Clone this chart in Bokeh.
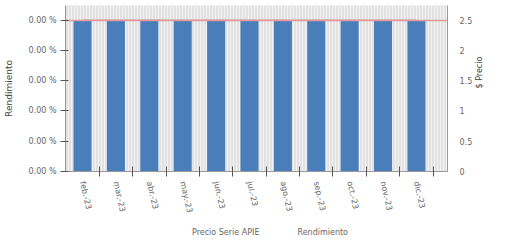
from bokeh.plotting import figure
from bokeh.layouts import column
from bokeh.models import (Range1d, LinearAxis, FixedTicker, NumeralTickFormatter,
                          BoxAnnotation, Legend, LegendItem, ColumnDataSource)
from bokeh.embed import file_html
from bokeh.resources import INLINE

# ---- data ----
months = ["feb.-23", "mar.-23", "abr.-23", "may.-23", "jun.-23", "jul.-23",
          "ago.-23", "sep.-23", "oct.-23", "nov.-23", "dic.-23"]
rendimiento = [0.00004] * 11          # all shown as 0.00 %
precio = [2.5] * 11                   # Precio Serie APIE
rend_ticks = [0.0, 0.000008, 0.000016, 0.000024, 0.000032, 0.00004]
precio_ticks = [0, 0.5, 1, 1.5, 2, 2.5]

xpos = list(range(len(months)))
src = ColumnDataSource(dict(x=xpos, rend=rendimiento, precio=precio))

FONT = "DejaVu Sans"
GREY_TXT = "#666666"
FS = "8px"
BAR_C = "#4a7ebb"
LINE_C = "#e09a9a"

p = figure(width=491, height=224, output_backend="svg", toolbar_location=None,
           x_range=Range1d(-0.51, 10.93), y_range=Range1d(0, 0.00004389),
           min_border_left=60, min_border_right=31, min_border_top=5,
           min_border_bottom=53)
p.extra_y_ranges = {"precio": Range1d(0, 2.743)}
p.outline_line_color = None
p.background_fill_color = "#e2e2e2"
p.border_fill_color = "white"

# striped background
p.add_layout(BoxAnnotation(fill_color="#e2e2e2", fill_alpha=1.0, line_color=None,
                           hatch_pattern="|", hatch_color="#f3f3f3",
                           hatch_scale=3, hatch_weight=1, level="underlay"))

p.vbar(x="x", top="rend", width=0.54, source=src, fill_color=BAR_C, line_color=None)
p.line(x="x", y="precio", source=src, y_range_name="precio",
       line_color=LINE_C, line_width=1.5)
p.hspan(y=precio[:1], y_range_name="precio", line_color=LINE_C, line_width=1.5)

# grid
p.xgrid.visible = False
p.ygrid.ticker = FixedTicker(ticks=rend_ticks)
p.ygrid.grid_line_color = "#c8c8c8"

# left axis
ya = p.yaxis[0]
ya.ticker = FixedTicker(ticks=rend_ticks)
ya.formatter = NumeralTickFormatter(format="0.00 %")
ya.axis_label = "Rendimiento"
ya.axis_label_text_font = FONT
ya.axis_label_text_font_size = "9px"
ya.axis_label_text_font_style = "normal"
ya.axis_label_text_color = "#444444"
ya.axis_label_standoff = 12
ya.major_label_text_font = FONT
ya.major_label_text_font_size = FS
ya.major_label_text_color = GREY_TXT
ya.axis_line_color = "#999999"
ya.major_tick_line_color = "#555555"
ya.major_tick_in = 3
ya.major_tick_out = 5
ya.minor_tick_line_color = None
ya.major_label_standoff = 4

# right axis
ra = LinearAxis(y_range_name="precio", ticker=FixedTicker(ticks=precio_ticks),
                formatter=NumeralTickFormatter(format="0.[0]"))
ra.axis_label = "$ Precio"
ra.axis_label_orientation = 1.5708
ra.axis_label_text_font = FONT
ra.axis_label_text_font_size = FS
ra.axis_label_text_font_style = "normal"
ra.axis_label_text_color = "#444444"
ra.axis_label_standoff = 4
ra.major_label_text_font = FONT
ra.major_label_text_font_size = FS
ra.major_label_text_color = GREY_TXT
ra.axis_line_color = "#999999"
ra.major_tick_line_color = None
ra.minor_tick_line_color = None
ra.major_label_standoff = 6
p.add_layout(ra, "right")

# bottom axis
xa = p.xaxis[0]
xa.ticker = FixedTicker(ticks=xpos, minor_ticks=[x + 0.5 for x in xpos])
xa.major_label_overrides = {i: m for i, m in zip(xpos, months)}
xa.major_label_orientation = -1.35
xa.major_label_text_font = FONT
xa.major_label_text_font_size = FS
xa.major_label_text_color = GREY_TXT
xa.axis_line_color = "#999999"
xa.major_tick_line_color = None
xa.minor_tick_line_color = "#555555"
xa.minor_tick_in = 5
xa.minor_tick_out = 5
xa.major_label_standoff = 4

# legend strip (separate small figure below the chart)
lg = figure(width=491, height=16, output_backend="svg", toolbar_location=None,
            x_range=Range1d(0, 1), y_range=Range1d(0, 1),
            min_border_left=0, min_border_right=0, min_border_top=0,
            min_border_bottom=0)
lg.axis.visible = False
lg.grid.visible = False
lg.outline_line_color = None
empty = ColumnDataSource(dict(x=[], y=[]))
l_line = lg.line(x="x", y="y", source=empty, line_color=LINE_C, line_width=1.5)
l_bar = lg.scatter(x="x", y="y", source=empty, marker="square",
                   fill_color=BAR_C, line_color=None)
legend = Legend(items=[LegendItem(label="Precio Serie APIE", renderers=[l_line]),
                       LegendItem(label="Rendimiento", renderers=[l_bar])],
                orientation="horizontal", location="center",
                label_text_font=FONT, label_text_font_size=FS,
                label_text_color=GREY_TXT, border_line_color=None,
                background_fill_alpha=0, glyph_width=24, glyph_height=9,
                label_height=9, spacing=10, padding=0, margin=0,
                label_standoff=4)
lg.add_layout(legend, "center")

layout = column(p, lg, spacing=0)

open("out.html", "w").write(file_html(layout, INLINE))
